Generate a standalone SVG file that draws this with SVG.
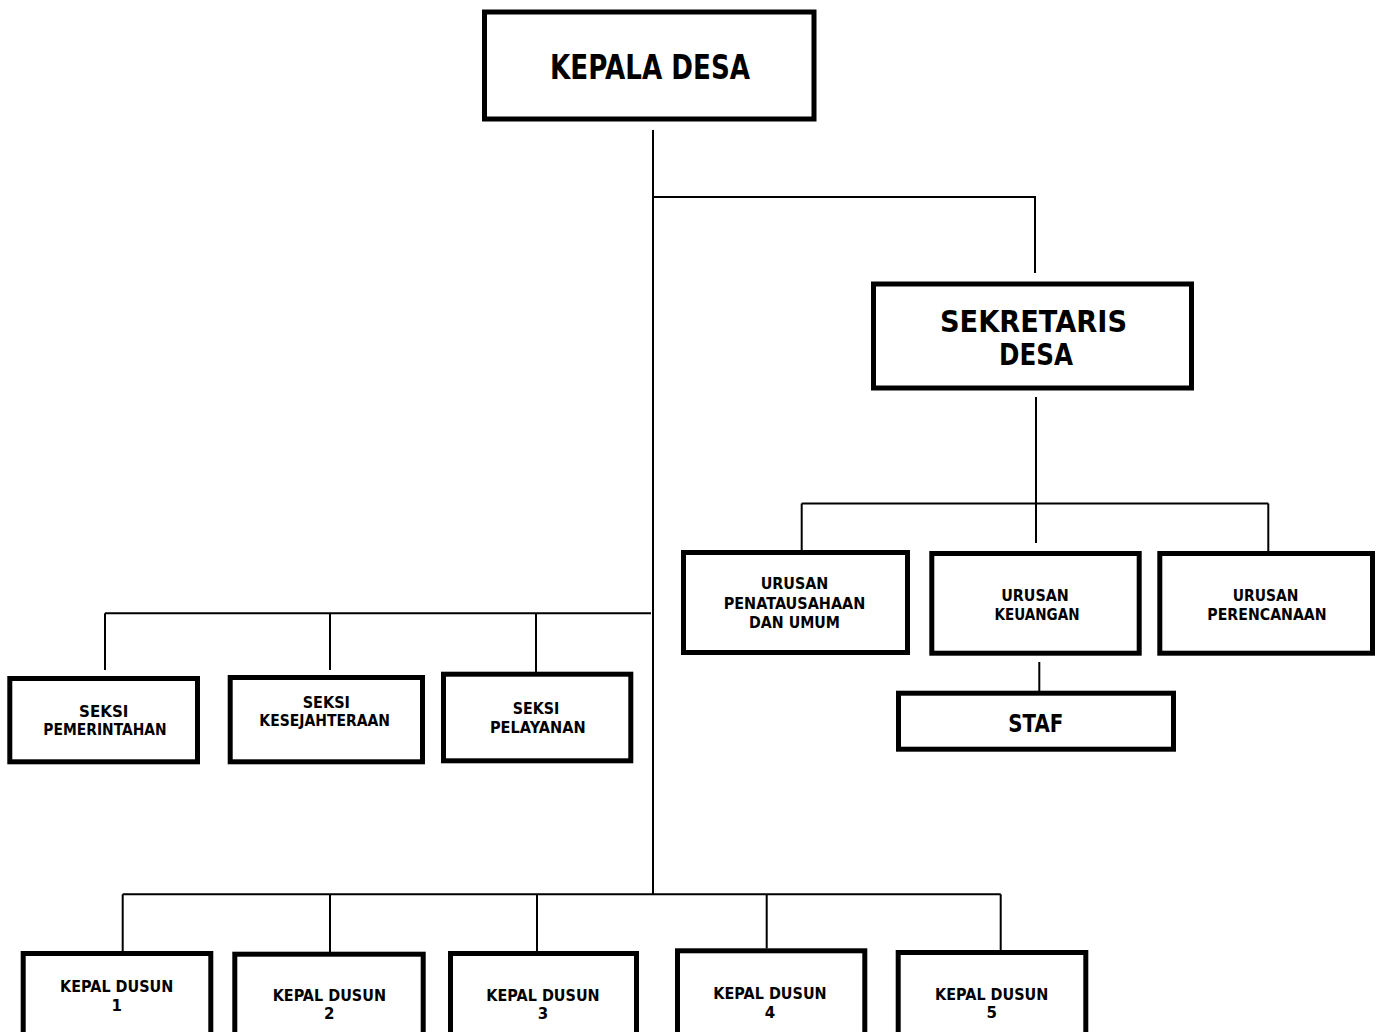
<svg xmlns="http://www.w3.org/2000/svg" width="1380" height="1032" viewBox="0 0 1380 1032">
<style>
.box{fill:#fff;stroke:#000;stroke-width:5}
.ln{fill:none;stroke:#000;stroke-width:2}
text{font-family:"DejaVu Sans","Verdana",sans-serif;font-weight:bold;fill:#000;text-anchor:middle}
.s{font-size:15px}
.l{font-size:33px}
.m{font-size:30px}
.st{font-size:24px}
</style>
<rect width="1380" height="1032" fill="#fff"/>
<g id="connectors">
<path class="ln" d="M653 130V895"/>
<path class="ln" d="M653 197H1035V273"/>
<path class="ln" d="M1036 397V543"/>
<path class="ln" d="M801.7 503.5H1268.3M801.7 503.5V550M1268.3 503.5V551"/>
<path class="ln" d="M1039.3 662V691"/>
<path class="ln" d="M105 613.3H651M105 613.3V670M330 613.3V670M536 613.3V672"/>
<path class="ln" d="M122.7 894.3H1000.7M122.7 894.3V951M330 894.3V952M537 894.3V951M766.7 894.3V948.5M1000.7 894.3V950"/>
</g>
<g id="kepala-desa">
<rect class="box" x="484.5" y="12" width="329.5" height="107"/>
<text class="l" x="650" y="79" textLength="200" lengthAdjust="spacingAndGlyphs">KEPALA DESA</text>
</g>
<g id="sekretaris-desa">
<rect class="box" x="873.5" y="284" width="318" height="104"/>
<text class="m" x="1033.5" y="331.7" textLength="187" lengthAdjust="spacingAndGlyphs">SEKRETARIS</text>
<text class="m" x="1036" y="365" textLength="74" lengthAdjust="spacingAndGlyphs">DESA</text>
</g>
<g id="urusan-penatausahaan">
<rect class="box" x="683.5" y="552.5" width="224" height="100"/>
<text class="s" x="794.5" y="589" textLength="67.7" lengthAdjust="spacingAndGlyphs">URUSAN</text>
<text class="s" x="794.5" y="609" textLength="141.7" lengthAdjust="spacingAndGlyphs">PENATAUSAHAAN</text>
<text class="s" x="794.5" y="628" textLength="91" lengthAdjust="spacingAndGlyphs">DAN UMUM</text>
</g>
<g id="urusan-keuangan">
<rect class="box" x="931.8" y="553.5" width="207.4" height="99.7"/>
<text class="s" x="1035" y="601" textLength="67.7" lengthAdjust="spacingAndGlyphs">URUSAN</text>
<text class="s" x="1037" y="620" textLength="85" lengthAdjust="spacingAndGlyphs">KEUANGAN</text>
</g>
<g id="urusan-perencanaan">
<rect class="box" x="1159.8" y="553.5" width="212.7" height="99.7"/>
<text class="s" x="1265.5" y="601" textLength="65.7" lengthAdjust="spacingAndGlyphs">URUSAN</text>
<text class="s" x="1267" y="620" textLength="119.3" lengthAdjust="spacingAndGlyphs">PERENCANAAN</text>
</g>
<g id="staf">
<rect class="box" x="898.5" y="693.2" width="275" height="56"/>
<text class="st" x="1035.8" y="731.7" textLength="55" lengthAdjust="spacingAndGlyphs">STAF</text>
</g>
<g id="seksi-pemerintahan">
<rect class="box" x="9.8" y="678.5" width="187.7" height="83.3"/>
<text class="s" x="103.7" y="716.7" textLength="49.3" lengthAdjust="spacingAndGlyphs">SEKSI</text>
<text class="s" x="105" y="735" textLength="123.3" lengthAdjust="spacingAndGlyphs">PEMERINTAHAN</text>
</g>
<g id="seksi-kesejahteraan">
<rect class="box" x="230.2" y="677.5" width="192.3" height="84.3"/>
<text class="s" x="326.3" y="707.7" textLength="47.3" lengthAdjust="spacingAndGlyphs">SEKSI</text>
<text class="s" x="324.7" y="726" textLength="130.7" lengthAdjust="spacingAndGlyphs">KESEJAHTERAAN</text>
</g>
<g id="seksi-pelayanan">
<rect class="box" x="443.5" y="674.2" width="187.3" height="86.6"/>
<text class="s" x="536" y="714" textLength="46.7" lengthAdjust="spacingAndGlyphs">SEKSI</text>
<text class="s" x="537.8" y="733.3" textLength="95.7" lengthAdjust="spacingAndGlyphs">PELAYANAN</text>
</g>
<g id="kepal-dusun-1">
<rect class="box" x="23.2" y="953.5" width="187.6" height="100"/>
<text class="s" x="116.7" y="992.3" textLength="113.3" lengthAdjust="spacingAndGlyphs">KEPAL DUSUN</text>
<text class="s" x="116.7" y="1011">1</text>
</g>
<g id="kepal-dusun-2">
<rect class="box" x="234.8" y="954.2" width="188.4" height="100"/>
<text class="s" x="329.3" y="1000.7" textLength="113.3" lengthAdjust="spacingAndGlyphs">KEPAL DUSUN</text>
<text class="s" x="329.3" y="1019.3">2</text>
</g>
<g id="kepal-dusun-3">
<rect class="box" x="450.5" y="953.5" width="186" height="100"/>
<text class="s" x="543" y="1000.7" textLength="113.3" lengthAdjust="spacingAndGlyphs">KEPAL DUSUN</text>
<text class="s" x="543" y="1019.3">3</text>
</g>
<g id="kepal-dusun-4">
<rect class="box" x="677.5" y="950.8" width="187.3" height="100"/>
<text class="s" x="770" y="999" textLength="113.3" lengthAdjust="spacingAndGlyphs">KEPAL DUSUN</text>
<text class="s" x="770" y="1017.7">4</text>
</g>
<g id="kepal-dusun-5">
<rect class="box" x="898.2" y="952.5" width="187.6" height="100"/>
<text class="s" x="991.7" y="1000" textLength="113.3" lengthAdjust="spacingAndGlyphs">KEPAL DUSUN</text>
<text class="s" x="991.7" y="1018.3">5</text>
</g>
</svg>
